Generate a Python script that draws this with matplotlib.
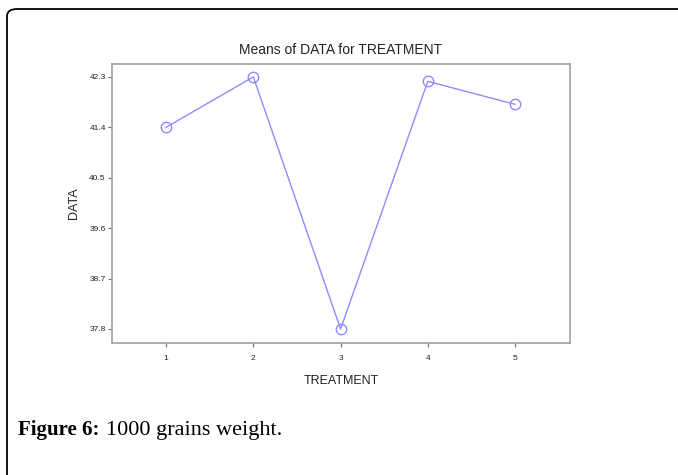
import matplotlib.pyplot as plt
from matplotlib.patches import FancyBboxPatch

# data
treatment = [1, 2, 3, 4, 5]
means = [41.40, 42.30, 37.80, 42.22, 41.81]
yticks = [37.8, 38.7, 39.6, 40.5, 41.4, 42.3]

fig = plt.figure(figsize=(6.78, 4.75), dpi=100)

# outer frame: only top + left edge visible, with a rounded corner
W, H = 678, 475
fig.add_artist(FancyBboxPatch((7 / W, -0.2), 1.2, 1.2 - 9 / H,
                              boxstyle="round,pad=0,rounding_size=0.015",
                              transform=fig.transFigure, fill=False,
                              edgecolor="black", linewidth=1.3, clip_on=False))

ax = fig.add_axes([112 / W, 1 - 343 / H, (570 - 112) / W, (343 - 64) / H])
ax.plot(treatment, means, color="#8c8cff", linewidth=1.0, marker="o",
        markersize=7.5, markerfacecolor="none", markeredgecolor="#8c8cff",
        markeredgewidth=1.0)

ax.set_xlim(0.38, 5.63)
ax.set_ylim(37.55, 42.53)
ax.set_xticks(treatment)
ax.set_yticks(yticks)
ax.set_yticklabels([f"{v:.1f}" for v in yticks])

for s in ax.spines.values():
    s.set_color("#a0a0a0")
    s.set_linewidth(1.2)
ax.tick_params(axis="both", length=3, width=0.8, color="#707070",
               labelsize=6, labelcolor="#222222")
ax.tick_params(axis="x", pad=6)
ax.tick_params(axis="y", pad=1.5)

font = "Liberation Sans"
for lbl in ax.get_xticklabels() + ax.get_yticklabels():
    lbl.set_family(font)

ax.set_title("Means of DATA for TREATMENT", fontsize=10, family=font,
             color="#222222", pad=7)
ax.set_xlabel("TREATMENT", fontsize=9, family=font, color="#222222", labelpad=9)
ax.set_ylabel("DATA", fontsize=9, family=font, color="#222222", labelpad=7)

fig.text(18 / W, 1 - 430 / H, "Figure 6:", fontsize=15, family="Liberation Serif",
         fontweight="bold", va="center", ha="left")
fig.text(106 / W, 1 - 430 / H, "1000 grains weight.", fontsize=16,
         family="Liberation Serif", va="center", ha="left")

fig.savefig("out.png", dpi=100)
